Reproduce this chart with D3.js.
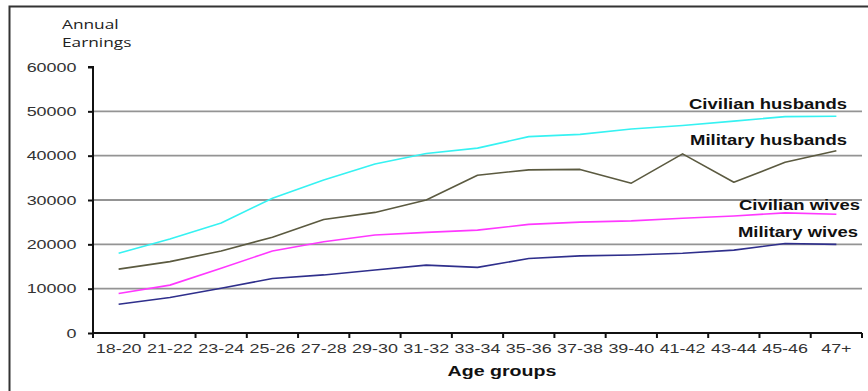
<!DOCTYPE html>
<html>
<head>
<meta charset="utf-8">
<script src="https://cdn.jsdelivr.net/npm/d3@7/dist/d3.min.js"></script>
<style>
  html, body { margin: 0; padding: 0; background: #fff; }
  svg { display: block; }
</style>
</head>
<body>
<svg id="chart" width="868" height="391"></svg>
<script>
// Age groups along the x axis
const ageGroups = ["18-20","21-22","23-24","25-26","27-28","29-30","31-32","33-34","35-36","37-38","39-40","41-42","43-44","45-46","47+"];

// Annual earnings per age group
const civilianHusbands = [18000,21200,24800,30400,34500,38100,40500,41700,44300,44800,46000,46800,47800,48800,48900];
const militaryHusbands = [14400,16100,18500,21600,25600,27200,30000,35600,36800,36900,33800,40400,34000,38500,41100];
const civilianWives    = [8900,10800,14600,18500,20600,22100,22700,23200,24500,25000,25300,25900,26400,27100,26800];
const militaryWives    = [6500,8000,10100,12300,13100,14200,15300,14800,16800,17400,17600,18000,18700,20200,20000];

const seriesNames = ["Civilian husbands","Military husbands","Civilian wives","Military wives"];
const yTicks = [0,10000,20000,30000,40000,50000,60000];

const series = [
  { name: seriesNames[0], values: civilianHusbands, color: "#36f2f2" },
  { name: seriesNames[1], values: militaryHusbands, color: "#5b5a40" },
  { name: seriesNames[2], values: civilianWives,    color: "#ff38ff" },
  { name: seriesNames[3], values: militaryWives,    color: "#2f2f8c" }
];

// right-aligned label anchors (px) for each series
const labelAnchors = [[847, 109], [847, 145], [860, 210], [858, 237]];

const svg = d3.select("#chart");
const plotLeft = 93, plotRight = 862, plotTop = 67, plotBottom = 333;
const wide = 1.38;            // horizontal text stretch
const sans = "Liberation Sans, Arial, sans-serif";

// outer frame (top and left edges)
svg.append("path")
  .attr("d", `M9.5,391 V6.5 H868`)
  .attr("fill", "none").attr("stroke", "#333").attr("stroke-width", 2);

const x = d3.scaleBand().domain(ageGroups).range([plotLeft, plotRight]);
const y = d3.scaleLinear().domain([0, 60000]).range([plotBottom, plotTop]);

// horizontal gridlines
svg.append("g").selectAll("line")
  .data(yTicks.filter(t => t > 0 && t < 60000))
  .join("line")
  .attr("x1", plotLeft).attr("x2", plotRight)
  .attr("y1", d => y(d)).attr("y2", d => y(d))
  .attr("stroke", "#949494").attr("stroke-width", 1.8);

// y axis
const yAxis = svg.append("g")
  .attr("transform", `translate(${plotLeft},0)`)
  .call(d3.axisLeft(y).tickValues(yTicks).tickSize(5).tickFormat(d3.format("d")));
yAxis.select(".domain").attr("stroke", "#111").attr("stroke-width", 2).attr("d", `M-5,${plotTop}H0V${plotBottom}`);
yAxis.selectAll(".tick line").attr("stroke", "#111").attr("stroke-width", 2);
yAxis.selectAll(".tick text")
  .attr("x", -16.5 / wide)
  .attr("transform", `scale(${wide},1)`)
  .attr("font-family", sans)
  .attr("font-size", 13).attr("fill", "#333");

// x axis with ticks at the category boundaries
const xAxis = svg.append("g")
  .attr("transform", `translate(0,${plotBottom})`)
  .call(d3.axisBottom(x).tickSize(0).tickPadding(11));
xAxis.select(".domain").attr("stroke", "#111").attr("stroke-width", 2).attr("d", `M${plotLeft},0H${plotRight}`);
xAxis.selectAll(".tick text")
  .attr("transform", `scale(${wide},1)`)
  .attr("font-family", sans)
  .attr("font-size", 13).attr("fill", "#333");
xAxis.append("g").selectAll("line")
  .data(ageGroups.map(g => x(g)).concat([plotRight]))
  .join("line")
  .attr("x1", d => d).attr("x2", d => d)
  .attr("y1", 0).attr("y2", 5)
  .attr("stroke", "#111").attr("stroke-width", 2);

// series lines
const line = d3.line()
  .x((d, i) => x(ageGroups[i]) + x.bandwidth() / 2)
  .y(d => y(d));

svg.append("g").selectAll("path")
  .data(series)
  .join("path")
  .attr("d", d => line(d.values))
  .attr("fill", "none")
  .attr("stroke", d => d.color)
  .attr("stroke-width", 1.6)
  .attr("stroke-linejoin", "round");

// series labels
svg.append("g").selectAll("text")
  .data(series)
  .join("text")
  .attr("transform", (d, i) => `translate(${labelAnchors[i][0]},${labelAnchors[i][1]}) scale(${wide - 0.06},1)`)
  .attr("text-anchor", "end")
  .attr("font-family", sans)
  .attr("font-weight", "bold")
  .attr("font-size", 14)
  .attr("fill", "#111")
  .text(d => d.name);

// y-axis title
const yTitle = svg.append("text")
  .attr("transform", `translate(62,0) scale(1.33,1)`)
  .attr("font-family", "Open Sans, Lato, sans-serif")
  .attr("font-size", 13)
  .attr("fill", "#222");
yTitle.append("tspan").attr("x", 0).attr("y", 29).text("Annual");
yTitle.append("tspan").attr("x", 0).attr("y", 47).text("Earnings");

// x-axis title
svg.append("text")
  .attr("transform", `translate(502,376) scale(1.4,1)`)
  .attr("text-anchor", "middle")
  .attr("font-family", sans)
  .attr("font-weight", "bold")
  .attr("font-size", 14)
  .attr("fill", "#111")
  .text("Age groups");
</script>
</body>
</html>
